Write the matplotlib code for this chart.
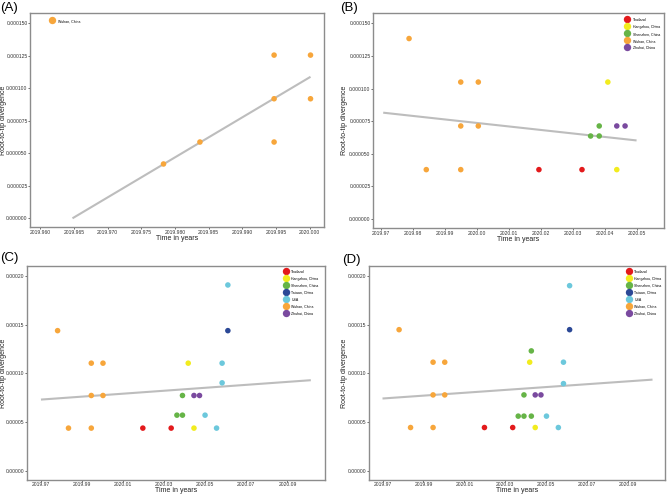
import matplotlib
matplotlib.use("Agg")
import matplotlib.pyplot as plt
from matplotlib.ticker import FormatStrFormatter
from matplotlib.lines import Line2D

plt.rcParams["font.family"] = ["Liberation Sans", "DejaVu Sans"]

# colours for each location
colors = {
    "Thailand": "#E31A1C",
    "Hangzhou, China": "#F2EC1E",
    "Shenzhen, China": "#66B447",
    "Taiwan, China": "#2B4896",
    "USA": "#6CC8DC",
    "Wuhan, China": "#F7A63B",
    "Zhuhai, China": "#7A4A9F",
}

# ---- panel A ----
a_loc = ["Wuhan, China"] * 7
a_x = [2019.9783, 2019.9837, 2019.9947, 2019.9947, 2019.9947, 2020.0001, 2020.0001]
a_y = [4.18e-5, 5.87e-5, 1.256e-4, 9.2e-5, 5.87e-5, 1.256e-4, 9.2e-5]
a_fit_x = [2019.9648, 2020.0001]
a_fit_y = [0.0, 1.089e-4]
a_legend = ["Wuhan, China"]

# ---- panel B ----
b_loc = ["Wuhan, China"] * 7 + ["Thailand"] * 2 + ["Shenzhen, China"] * 3 + \
        ["Hangzhou, China"] * 2 + ["Zhuhai, China"] * 2
b_x = [2019.9787, 2019.9841, 2019.9949, 2019.9949, 2019.9949, 2020.0004, 2020.0004,
       2020.0194, 2020.0329,
       2020.0356, 2020.0383, 2020.0383,
       2020.0410, 2020.0438,
       2020.0438, 2020.0464]
b_y = [1.384e-4, 3.78e-5, 1.05e-4, 7.13e-5, 3.78e-5, 1.05e-4, 7.13e-5,
       3.78e-5, 3.78e-5,
       6.36e-5, 7.13e-5, 6.36e-5,
       1.05e-4, 3.78e-5,
       7.13e-5, 7.13e-5]
b_fit_x = [2019.9706, 2020.0500]
b_fit_y = [8.15e-5, 6.02e-5]
b_legend = ["Thailand", "Hangzhou, China", "Shenzhen, China", "Wuhan, China", "Zhuhai, China"]

# ---- panel C ----
c_loc = ["Wuhan, China"] * 7 + ["Thailand"] * 2 + ["Shenzhen, China"] * 3 + \
        ["Hangzhou, China"] * 2 + ["Zhuhai, China"] * 2 + ["USA"] * 5 + ["Taiwan, China"]
c_x = [2019.9781, 2019.9834, 2019.9945, 2019.9945, 2019.9945, 2020.0002, 2020.0002,
       2020.0196, 2020.0334,
       2020.0362, 2020.0389, 2020.0389,
       2020.0417, 2020.0445,
       2020.0445, 2020.0472,
       2020.0499, 2020.0555, 2020.0582, 2020.0582, 2020.0610,
       2020.0610]
c_y = [1.439e-4, 4.38e-5, 1.105e-4, 7.73e-5, 4.38e-5, 1.105e-4, 7.73e-5,
       4.38e-5, 4.38e-5,
       5.71e-5, 5.71e-5, 7.73e-5,
       1.105e-4, 4.38e-5,
       7.73e-5, 7.73e-5,
       5.71e-5, 4.38e-5, 1.105e-4, 9.03e-5, 1.908e-4,
       1.439e-4]
c_fit_x = [2019.9700, 2020.1014]
c_fit_y = [7.31e-5, 9.30e-5]

# ---- panel D ----
d_loc = ["Wuhan, China"] * 7 + ["Thailand"] * 2 + ["Shenzhen, China"] * 5 + \
        ["Hangzhou, China"] * 2 + ["Zhuhai, China"] * 2 + ["USA"] * 5 + ["Taiwan, China"]
d_x = [2019.9781, 2019.9837, 2019.9947, 2019.9947, 2019.9947, 2020.0004, 2020.0004,
       2020.0198, 2020.0336,
       2020.0363, 2020.0391, 2020.0427, 2020.0391, 2020.0427,
       2020.0419, 2020.0446,
       2020.0446, 2020.0474,
       2020.0501, 2020.0559, 2020.0584, 2020.0584, 2020.0614,
       2020.0614]
d_y = [1.449e-4, 4.44e-5, 1.115e-4, 7.79e-5, 4.44e-5, 1.115e-4, 7.79e-5,
       4.44e-5, 4.44e-5,
       5.61e-5, 5.61e-5, 5.61e-5, 7.79e-5, 1.231e-4,
       1.115e-4, 4.44e-5,
       7.79e-5, 7.79e-5,
       5.61e-5, 4.44e-5, 1.115e-4, 8.95e-5, 1.901e-4,
       1.449e-4]
d_fit_x = [2019.9700, 2020.1019]
d_fit_y = [7.42e-5, 9.36e-5]
cd_legend = ["Thailand", "Hangzhou, China", "Shenzhen, China", "Taiwan, China",
             "USA", "Wuhan, China", "Zhuhai, China"]

a_xticks = [2019.960, 2019.965, 2019.970, 2019.975, 2019.980, 2019.985,
            2019.990, 2019.995, 2020.000]
ab_yticks = [0, 2.5e-5, 5e-5, 7.5e-5, 1e-4, 1.25e-4, 1.5e-4]
b_xticks = [2019.97, 2019.98, 2019.99, 2020.00, 2020.01, 2020.02, 2020.03, 2020.04, 2020.05]
cd_xticks = [2019.97, 2019.99, 2020.01, 2020.03, 2020.05, 2020.07, 2020.09]
cd_yticks = [0, 5e-5, 1e-4, 1.5e-4, 2e-4]

W, H = 667, 495
fig = plt.figure(figsize=(W / 100, H / 100), dpi=100)


def make_axes(l, r, t, b):
    return fig.add_axes([l / W, 1 - b / H, (r - l) / W, (b - t) / H])


def panel(ax, xs, ys, locs, fit_x, fit_y, xlim, ylim, xticks, yticks, xfmt, yfmt, ylab_dx):
    ax.plot(fit_x, fit_y, color="#BDBDBD", lw=1.5, solid_capstyle="butt", zorder=2)
    ax.scatter(xs, ys, c=[colors[l] for l in locs], s=16, linewidths=0, zorder=3)
    ax.set_xlim(*xlim)
    ax.set_ylim(*ylim)
    ax.set_xticks(xticks)
    ax.set_yticks(yticks)
    ax.xaxis.set_major_formatter(FormatStrFormatter(xfmt))
    ax.yaxis.set_major_formatter(FormatStrFormatter(yfmt))
    ax.tick_params(labelsize=3.6, length=1.2, width=0.5, pad=0.6, colors="#333333")
    for s in ax.spines.values():
        s.set_color("#8C8C8C")
        s.set_linewidth(1.0)
    bb = ax.get_position()
    ax.set_xlabel("Time in years", fontsize=5, color="#222222")
    ax.xaxis.set_label_coords(0.5, -7.5 / (bb.height * H))
    ax.set_ylabel("Root-to-tip divergence", fontsize=5, color="#222222")
    ax.yaxis.set_label_coords(ylab_dx / (bb.width * W), 0.5)
    return ax


axA = make_axes(30, 324, 13, 227)
panel(axA, a_x, a_y, a_loc, a_fit_x, a_fit_y,
      (2019.9585, 2020.0021), (-6.7e-6, 1.58e-4), a_xticks, ab_yticks, "%.3f", "%.6f", -23)
axB = make_axes(373, 664, 13, 228)
panel(axB, b_x, b_y, b_loc, b_fit_x, b_fit_y,
      (2019.9674, 2020.0586), (-7.0e-6, 1.58e-4), b_xticks, ab_yticks, "%.2f", "%.6f", -25)
axC = make_axes(27, 325, 266, 480)
panel(axC, c_x, c_y, c_loc, c_fit_x, c_fit_y,
      (2019.9632, 2020.1083), (-9.5e-6, 2.103e-4), cd_xticks, cd_yticks, "%.2f", "%.5f", -20)
axD = make_axes(369, 665, 266, 480)
panel(axD, d_x, d_y, d_loc, d_fit_x, d_fit_y,
      (2019.9634, 2020.1080), (-9.5e-6, 2.103e-4), cd_xticks, cd_yticks, "%.2f", "%.5f", -21)


def add_legend(ax, names, left, top):
    # left/top in figure pixels
    handles = [Line2D([], [], marker="o", ls="", ms=5.3, mec="none", mfc=colors[n]) for n in names]
    ax.legend(handles, names, loc="upper left", bbox_to_anchor=(left / W, 1 - top / H),
              bbox_transform=fig.transFigure, fontsize=2.5, frameon=False,
              handlelength=2.1, handleheight=2.1, handletextpad=0.6,
              labelspacing=0.4, borderpad=0, borderaxespad=0)


add_legend(axA, a_legend, 48.7, 18.3)
add_legend(axB, b_legend, 623.6, 17.2)
add_legend(axC, cd_legend, 282, 268.9)
add_legend(axD, cd_legend, 625, 268.9)

for label, x, y in [("(A)", 0, 8), ("(B)", 340, 8), ("(C)", 0, 258.5), ("(D)", 342, 259.5)]:
    fig.text(x / W, 1 - y / H, label, fontsize=9.5, va="center", ha="left")

fig.savefig("out.png", dpi=100)
